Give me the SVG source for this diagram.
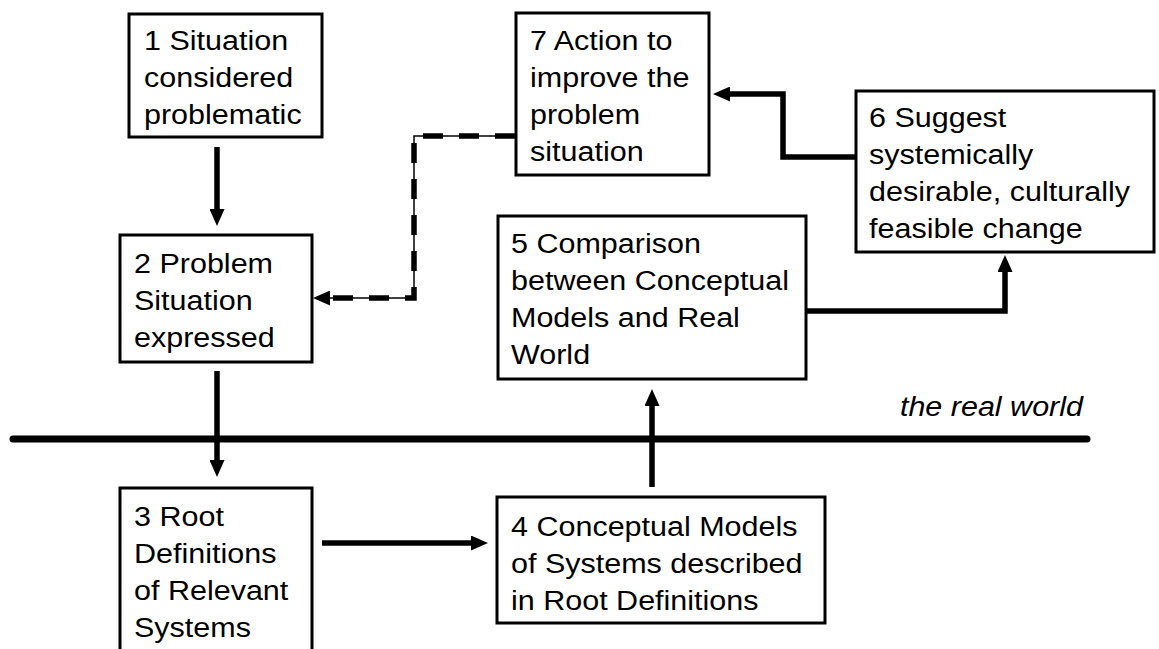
<svg xmlns="http://www.w3.org/2000/svg" width="1159" height="649" viewBox="0 0 1159 649">
<defs>
<style>
.box{fill:#fff;stroke:#000;stroke-width:3}
.lbl{font-family:"Liberation Sans",Arial,Helvetica,sans-serif;font-size:28px;fill:#000}
.it{font-style:italic}
.con{fill:none;stroke:#000;stroke-width:5.5;stroke-linejoin:miter;stroke-linecap:butt}
.thin{fill:none;stroke:#000;stroke-width:1.5}
.dash{fill:none;stroke:#000;stroke-width:5.5;stroke-dasharray:20 16}
</style>
<marker id="ah" viewBox="0 0 17 15" refX="0" refY="7.5" markerWidth="17" markerHeight="15" markerUnits="userSpaceOnUse" orient="auto">
<path d="M0,0 L17,7.5 L0,15 z" fill="#000"/>
</marker>
</defs>
<rect width="1159" height="649" fill="#fff"/>
<g id="divider">
<line x1="13" y1="439" x2="1087" y2="439" stroke="#000" stroke-width="7" stroke-linecap="round"/>
<text class="lbl it" text-anchor="end" transform="matrix(1.09 0 0 1 1083 416)">the real world</text>
</g>
<g id="n1">
<rect class="box" x="129" y="14" width="193" height="123"/>
<text class="lbl" transform="matrix(1.09 0 0 1 144 0)"><tspan x="0" y="50">1 Situation</tspan><tspan x="0" y="87">considered</tspan><tspan x="0" y="124">problematic</tspan></text>
</g>
<g id="n2">
<rect class="box" x="120" y="235" width="192" height="127"/>
<text class="lbl" transform="matrix(1.09 0 0 1 134 0)"><tspan x="0" y="273">2 Problem</tspan><tspan x="0" y="310">Situation</tspan><tspan x="0" y="347">expressed</tspan></text>
</g>
<g id="n3">
<rect class="box" x="120" y="488" width="192" height="200"/>
<text class="lbl" transform="matrix(1.09 0 0 1 134 0)"><tspan x="0" y="526">3 Root</tspan><tspan x="0" y="563">Definitions</tspan><tspan x="0" y="600">of Relevant</tspan><tspan x="0" y="637">Systems</tspan></text>
</g>
<g id="n4">
<rect class="box" x="497" y="497" width="328" height="126"/>
<text class="lbl" transform="matrix(1.09 0 0 1 511 0)"><tspan x="0" y="536">4 Conceptual Models</tspan><tspan x="0" y="573">of Systems described</tspan><tspan x="0" y="610">in Root Definitions</tspan></text>
</g>
<g id="n5">
<rect class="box" x="498" y="216" width="308" height="163"/>
<text class="lbl" transform="matrix(1.09 0 0 1 511 0)"><tspan x="0" y="253">5 Comparison</tspan><tspan x="0" y="290">between Conceptual</tspan><tspan x="0" y="327">Models and Real</tspan><tspan x="0" y="364">World</tspan></text>
</g>
<g id="n6">
<rect class="box" x="856" y="91" width="298" height="161"/>
<text class="lbl" transform="matrix(1.09 0 0 1 869 0)"><tspan x="0" y="127">6 Suggest</tspan><tspan x="0" y="164">systemically</tspan><tspan x="0" y="201">desirable, culturally</tspan><tspan x="0" y="238">feasible change</tspan></text>
</g>
<g id="n7">
<rect class="box" x="516" y="13" width="193" height="162"/>
<text class="lbl" transform="matrix(1.09 0 0 1 530 0)"><tspan x="0" y="50">7 Action to</tspan><tspan x="0" y="87">improve the</tspan><tspan x="0" y="124">problem</tspan><tspan x="0" y="161">situation</tspan></text>
</g>
<g id="connectors">
<path class="con" d="M217,147 V209" marker-end="url(#ah)"/>
<path class="con" d="M217,371 V460" marker-end="url(#ah)"/>
<path class="con" d="M322,543 H471" marker-end="url(#ah)"/>
<path class="con" d="M652,487 V406" marker-end="url(#ah)"/>
<path class="con" d="M806,311 H1005 V272" marker-end="url(#ah)"/>
<path class="con" d="M856,157 H783 V94 H730" marker-end="url(#ah)"/>
<path class="thin" d="M515,136 H414 V298 H330" marker-end="url(#ah)"/>
<path class="dash" d="M515,136 H414 V298 H330"/>
</g>
</svg>
